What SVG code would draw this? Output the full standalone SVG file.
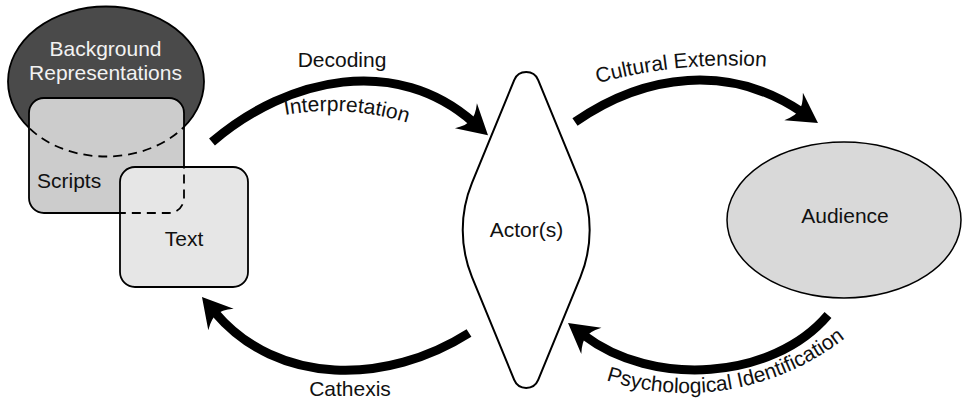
<svg xmlns="http://www.w3.org/2000/svg" width="962" height="406" viewBox="0 0 962 406">
<style>
  text { font-family: "Liberation Sans", Arial, Helvetica, sans-serif; font-size: 21px; fill: #111; }
  .shape { stroke: #000; stroke-width: 1.8; }
  .dash { fill: none; stroke: #000; stroke-width: 1.8; stroke-dasharray: 9 6; }
  .arrow { fill: none; stroke: #000; stroke-width: 9; stroke-linecap: butt; marker-end: url(#ah); }
  .light { fill: #f2f2f2; }
</style>
<defs>
  <marker id="ah" markerUnits="userSpaceOnUse" orient="auto" refX="0" refY="0" markerWidth="40" markerHeight="40" overflow="visible">
    <path d="M20,0 L-9.4,-16.6 Q-2,-6 -3,0 Q-2,6 -9.4,16.6 Z" fill="#000"/>
  </marker>
  <clipPath id="clipScripts"><rect x="29" y="98" width="155" height="115" rx="15"/></clipPath>
  <clipPath id="clipText"><rect x="120" y="167" width="128" height="120" rx="15"/></clipPath>
  <path id="pInterp" d="M236.3,128.6 A258,258 0 0 1 453.9,142.7"/>
  <path id="pCult" d="M554.1,97.5 A500,500 0 0 1 811.7,72.2"/>
  <path id="pPsych" d="M520.2,332.6 A258,258 0 0 0 909.4,264"/>
</defs>

<g id="node-background">
  <ellipse cx="106" cy="81.5" rx="98" ry="75" fill="#4a4a4a" class="shape"/>
  <text x="105.5" y="56" text-anchor="middle" class="light">Background</text>
  <text x="105.5" y="80" text-anchor="middle" class="light">Representations</text>
</g>

<g id="node-scripts">
  <rect x="29" y="98" width="155" height="115" rx="15" fill="#cccccc" class="shape"/>
  <ellipse cx="106" cy="81.5" rx="98" ry="75" class="dash" clip-path="url(#clipScripts)"/>
  <text x="37" y="188">Scripts</text>
</g>

<g id="node-text">
  <rect x="120" y="167" width="128" height="120" rx="15" fill="#e6e6e6" class="shape"/>
  <rect x="29" y="98" width="155" height="115" rx="15" class="dash" clip-path="url(#clipText)"/>
  <text x="184" y="246" text-anchor="middle">Text</text>
</g>

<g id="node-actor">
  <path d="M538.2,80.07 A13,13 0 0 0 514.2,80.07 L472,182.95 A124,124 0 0 0 472,277.05 L514.2,379.93 A13,13 0 0 0 538.2,379.93 L580.4,277.05 A124,124 0 0 0 580.4,182.95 Z" fill="#fff" stroke="#000" stroke-width="2"/>
  <text x="526.5" y="237" text-anchor="middle">Actor(s)</text>
</g>

<g id="node-audience">
  <ellipse cx="844" cy="220" rx="117" ry="78" fill="#d9d9d9" stroke="#000" stroke-width="1.5"/>
  <text x="845" y="223" text-anchor="middle">Audience</text>
</g>

<g id="connectors">
  <path class="arrow" d="M212,142 C289,76 397,55 473,122"/>
  <path class="arrow" d="M575,122 C645.5,73 730,63.6 801.4,111.8"/>
  <path class="arrow" d="M828,315 C772.4,380.6 652.2,387.5 583.9,335.2"/>
  <path class="arrow" d="M469,333 C387,385 277.6,386.5 214.9,312.3"/>
</g>

<g id="labels">
  <text x="342" y="67" text-anchor="middle">Decoding</text>
  <text><textPath href="#pInterp" startOffset="50%" text-anchor="middle">Interpretation</textPath></text>
  <text><textPath href="#pCult" startOffset="50%" text-anchor="middle">Cultural Extension</textPath></text>
  <text><textPath href="#pPsych" startOffset="50%" text-anchor="middle">Psychological Identification</textPath></text>
  <text x="350" y="396" text-anchor="middle">Cathexis</text>
</g>
</svg>
